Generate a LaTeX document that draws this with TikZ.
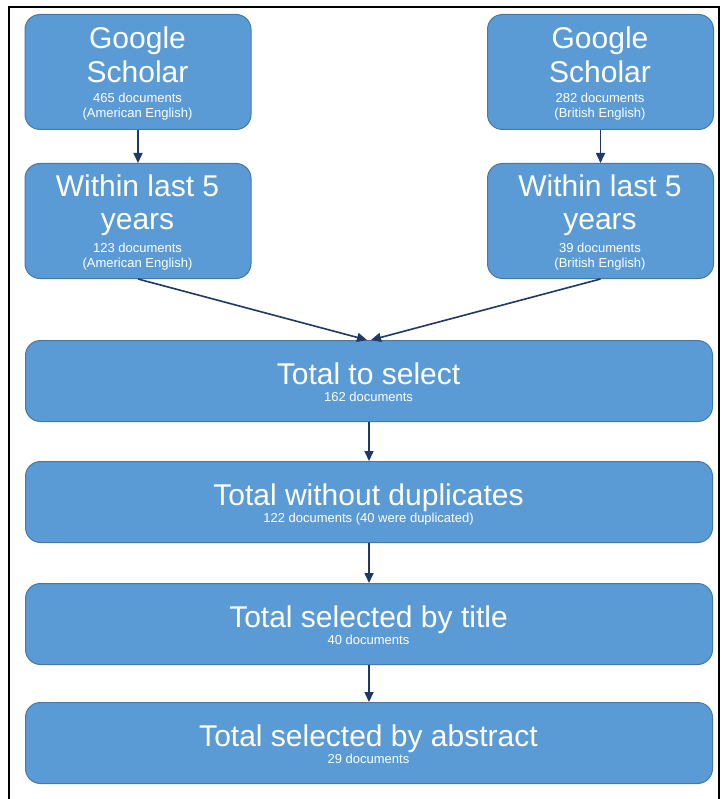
\documentclass[tikz,border=0pt]{standalone}
\usepackage{fontspec}
\setmainfont{Liberation Sans}
\usetikzlibrary{arrows.meta}
\definecolor{boxfill}{HTML}{5B9BD5}
\definecolor{boxline}{HTML}{4677A8}
\definecolor{arrowc}{HTML}{1F3864}
\begin{document}
\begin{tikzpicture}[x=1pt,y=-1pt,
  box/.style={draw=boxline, line width=1pt, fill=boxfill, rounded corners=15pt, inner sep=0pt, anchor=north west},
  smallbox/.style={box, minimum width=226pt, minimum height=115pt},
  widebox/.style={box, minimum width=687pt, minimum height=81pt},
  bigtext/.style={text=white, inner sep=0pt, anchor=base, font=\fontsize{30}{33}\selectfont},
  smalltext/.style={text=white, inner sep=0pt, anchor=base, font=\fontsize{13}{16}\selectfont},
  conn/.style={draw=arrowc, line width=1.6pt, -{Triangle[length=10pt,width=9pt]}}]
\useasboundingbox (0,0) rectangle (725,799);
\fill[white] (0,0) rectangle (725,799);
\draw[line width=2pt] (9,810) -- (9,7) -- (719,7) -- (719,810);

% boxes
\node[smallbox] (gl) at (24.5,14) {};
\node[smallbox] (gr) at (487,14) {};
\node[smallbox] (wl) at (24.5,163) {};
\node[smallbox] (wr) at (487,163) {};
\node[widebox] (sel) at (25,340) {};
\node[widebox] (dup) at (25,461) {};
\node[widebox] (tit) at (25,583) {};
\node[widebox] (abs) at (25,702) {};

% texts
\node[bigtext] (gl1) at (137.5,49) {Google};
\node[bigtext] (gl2) at (137.5,83) {Scholar};
\node[smalltext] (gl3) at (137.5,103) {465 documents};
\node[smalltext] (gl4) at (137.5,118) {(American English)};

\node[bigtext] (gr1) at (600,49) {Google};
\node[bigtext] (gr2) at (600,83) {Scholar};
\node[smalltext] (gr3) at (600,103) {282 documents};
\node[smalltext] (gr4) at (600,118) {(British English)};

\node[bigtext] (wl1) at (137.5,197) {Within last 5};
\node[bigtext] (wl2) at (137.5,230) {years};
\node[smalltext] (wl3) at (137.5,252) {123 documents};
\node[smalltext] (wl4) at (137.5,267) {(American English)};

\node[bigtext] (wr1) at (600,197) {Within last 5};
\node[bigtext] (wr2) at (600,230) {years};
\node[smalltext] (wr3) at (600,252) {39 documents};
\node[smalltext] (wr4) at (600,267) {(British English)};

\node[bigtext] (sel1) at (368.5,384) {Total to select};
\node[smalltext] (sel2) at (368.5,401) {162 documents};
\node[bigtext] (dup1) at (368.5,505) {Total without duplicates};
\node[smalltext] (dup2) at (368.5,522.5) {122 documents (40 were duplicated)};
\node[bigtext] (tit1) at (368.5,627) {Total selected by title};
\node[smalltext] (tit2) at (368.5,644) {40 documents};
\node[bigtext] (abs1) at (368.5,746) {Total selected by abstract};
\node[smalltext] (abs2) at (368.5,763) {29 documents};

% connectors
\draw[conn] (gl.south) -- (wl.north);
\draw[conn] (gr.south) -- (wr.north);
\draw[conn] (wl.south) -- ([xshift=-2pt]sel.north);
\draw[conn] (wr.south) -- ([xshift=2pt]sel.north);
\draw[conn] (sel.south) -- (dup.north);
\draw[conn] (dup.south) -- (tit.north);
\draw[conn] (tit.south) -- (abs.north);
\end{tikzpicture}
\end{document}
